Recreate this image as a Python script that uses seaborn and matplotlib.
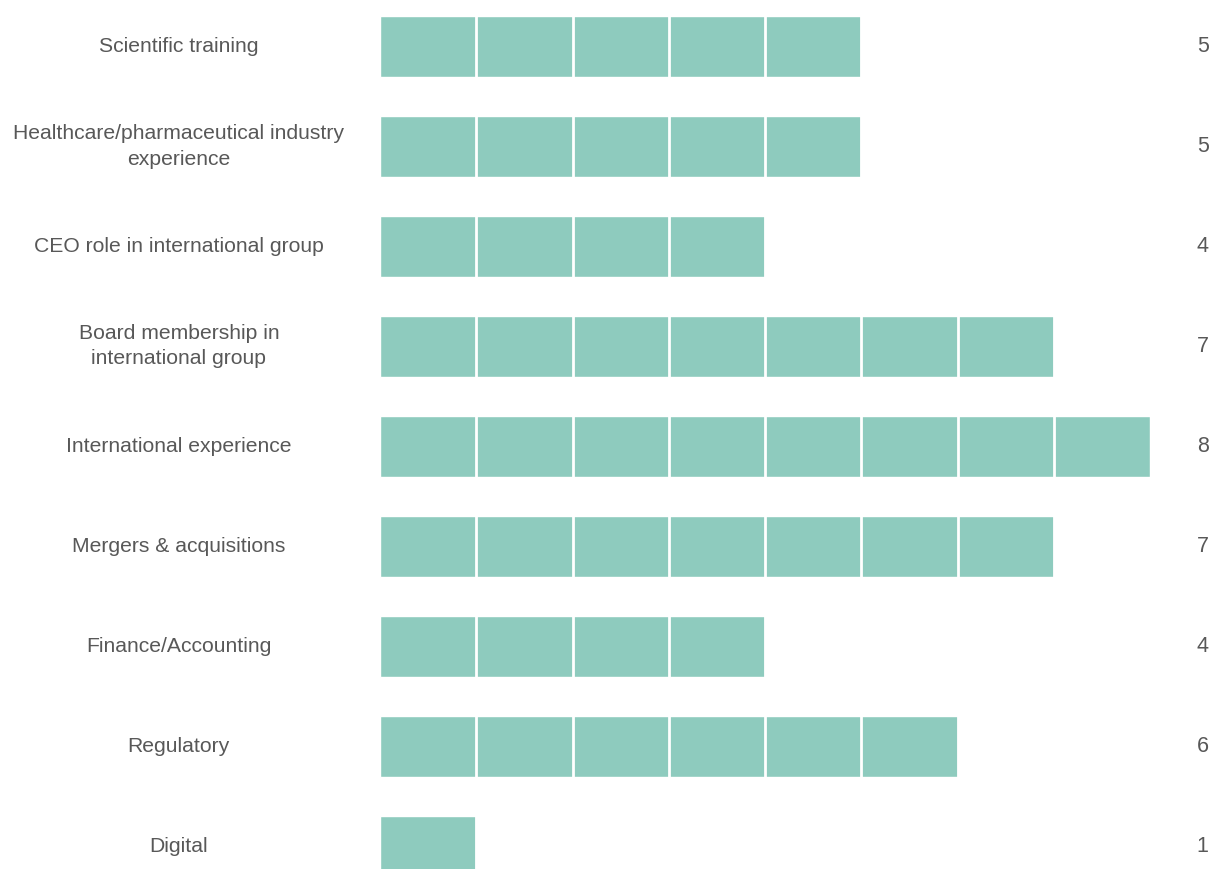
import pandas as pd
import numpy as np
import matplotlib.pyplot as plt
import seaborn as sns

# Skills and number of board members holding each one
skills = [
    'Scientific training',
    'Healthcare/pharmaceutical industry\nexperience',
    'CEO role in international group',
    'Board membership in\ninternational group',
    'International experience',
    'Mergers & acquisitions',
    'Finance/Accounting',
    'Regulatory',
    'Digital',
]
counts = [5, 5, 4, 7, 8, 7, 4, 6, 1]

bar_color = '#8ecbbe'
text_color = '#585858'

sns.set_theme(style='white')
plt.rcParams['font.family'] = ['Liberation Sans', 'DejaVu Sans']

df = pd.DataFrame({'skill': skills, 'count': counts})

fig = plt.figure(figsize=(12.11, 8.69), dpi=100)
ax = fig.add_axes([380 / 1211, 0, 770 / 1211, 1])

sns.barplot(data=df, x='count', y='skill', color=bar_color, width=0.61,
            saturation=1, ax=ax)

# white separators so every bar reads as a row of unit blocks
ax.vlines(np.arange(1, max(counts)), -1, len(skills), colors='white', linewidth=2)

ax.set_xlim(0, max(counts))
ax.set_ylim(8.23, -0.465)
ax.set_xticks([])
ax.set_yticks([])
ax.set_xlabel('')
ax.set_ylabel('')
sns.despine(ax=ax, left=True, bottom=True)

for i, (skill, n) in enumerate(zip(skills, counts)):
    ax.text(-2.09, i, skill, ha='center', va='center', fontsize=15.2,
            color=text_color, linespacing=1.42, clip_on=False)
    ax.text(8.61, i, str(n), ha='right', va='center', fontsize=15.5,
            color=text_color, clip_on=False)

fig.savefig('out.png', dpi=100)
